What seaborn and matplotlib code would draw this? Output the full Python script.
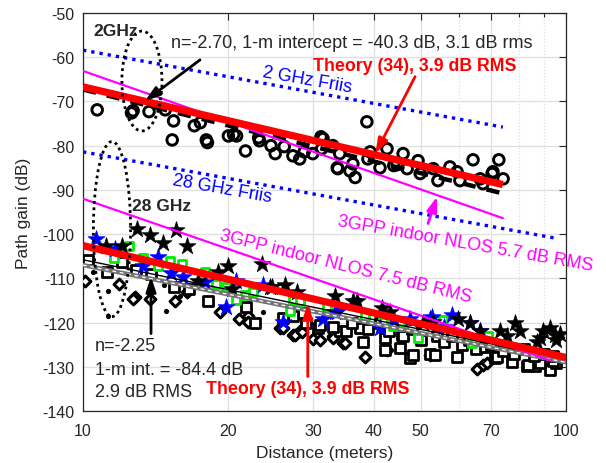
import numpy as np
import pandas as pd
import matplotlib
matplotlib.use("Agg")
import matplotlib.pyplot as plt
from matplotlib.patches import Ellipse
from matplotlib.ticker import FixedLocator, NullFormatter
import seaborn as sns

# ---------------- data ----------------
# 2 GHz measurements (open circles)
c2_x = [10.7, 12.6, 12.7, 13.7, 14.8, 15.4, 15.3, 17.0, 17.5, 18.0, 18.1, 20.0, 20.5, 20.8,
        21.7, 23.1, 23.2, 24.5, 25.0, 26.1, 27.2, 28.1, 28.7, 29.9, 31.1, 31.4, 31.2, 32.9,
        34.0, 33.7, 33.6, 35.7, 36.2, 36.6, 38.7, 39.3, 38.9, 41.2, 42.6, 44.0, 44.7, 46.0,
        46.9, 49.4, 49.9, 53.1, 54.3, 57.5, 59.5, 60.3, 64.2, 66.4, 67.3, 70.3, 70.6, 72.6, 74.1]
c2_y = [-71.9, -72.6, -72.1, -72.3, -71.9, -74.4, -78.7, -75.5, -74.8, -78.7, -79.3, -77.8, -77.5, -77.8,
        -81.2, -78.2, -78.9, -80.0, -81.8, -80.2, -82.3, -83.0, -81.4, -81.8, -78.0, -78.4, -80.7, -80.0,
        -81.8, -85.2, -85.0, -85.7, -84.1, -87.2, -74.6, -81.4, -83.0, -85.0, -80.7, -84.5, -84.3, -81.8,
        -85.2, -83.4, -86.3, -85.2, -87.9, -84.8, -85.9, -87.9, -83.2, -87.5, -88.6, -86.3, -85.9, -83.2, -87.5]

# 28 GHz measurements
ks_x = [12.94, 13.76, 14.64, 15.58, 16.42, 11.16, 12.04, 19.96, 23.48, 17.30, 19.03, 20.34, 24.39,
        26.20, 27.74, 33.25, 36.22, 36.92, 41.59, 43.21, 24.62, 59.76, 63.27, 78.43, 80.33, 73.02,
        75.49, 89.63, 94.89, 88.37, 87.10, 50.57, 53.04, 66.36, 92.67, 95.35, 97.0]
ks_y = [-98.8, -100.3, -102.1, -99.0, -102.8, -102.6, -102.8, -107.3, -106.7, -110.5, -108.5, -112.3, -111.9,
        -111.6, -113.0, -113.9, -115.2, -115.2, -116.8, -117.5, -111.9, -119.1, -120.2, -120.2, -121.8, -122.0,
        -123.1, -122.0, -122.9, -123.6, -124.3, -120.0, -119.8, -122.0, -121.3, -124.0, -122.5]

bs_x = [10.64, 11.65, 14.30, 13.31, 15.21, 16.11, 17.89, 19.77, 20.74, 25.95, 33.25, 31.40, 23.59,
        58.07, 52.79, 47.53, 66.36, 33.57, 63.27, 52.29, 41.2, 44.0, 56.0]
bs_y = [-101.0, -103.3, -105.1, -107.3, -108.9, -109.6, -110.9, -116.4, -110.5, -119.8, -117.5, -119.1, -111.6,
        -118.2, -118.8, -119.1, -121.8, -117.5, -120.2, -119.1, -121.3, -119.5, -121.0]

gs_x = [10.64, 12.45, 11.59, 13.31, 14.30, 15.14, 16.03, 17.89, 18.85, 19.77, 20.74, 21.65, 22.49,
        27.22, 28.14, 26.83, 32.00, 38.36, 41.79, 43.83, 45.97, 45.32, 49.38, 55.63, 63.88, 68.95]
gs_y = [-102.8, -102.8, -105.5, -105.3, -107.1, -106.0, -106.7, -108.5, -111.2, -111.9, -115.0, -113.7, -113.0,
        -115.0, -115.2, -117.3, -116.4, -118.6, -119.8, -120.7, -120.7, -120.2, -123.6, -119.5, -124.7, -123.1]

sq_x = [10.24, 11.21, 12.04, 12.87, 13.83, 16.58, 15.43, 18.15, 21.76, 22.71, 28.54, 30.66, 34.05,
        37.45, 41.20, 45.75, 42.19, 27.22, 47.53, 48.22, 71.29, 77.31, 83.05, 86.28, 92.67, 95.35,
        59.47, 52.29, 45.32, 38.00, 42.19, 53.55, 71.97, 83.45, 88.37, 94.00,
        26.0, 29.0, 31.0, 33.0, 35.0, 36.0, 39.0, 43.0, 46.0, 48.0, 50.0, 54.0, 56.0, 58.0,
        61.0, 63.0, 65.0, 68.0, 70.0, 74.0, 78.0, 82.0, 86.0, 90.0, 94.0]
sq_y = [-105.8, -108.5, -106.4, -108.2, -109.1, -112.3, -111.9, -115.2, -116.4, -120.0, -117.9, -121.3, -121.8,
        -121.3, -120.2, -122.9, -123.6, -118.6, -128.1, -127.4, -128.1, -129.0, -129.9, -129.9, -130.8, -129.2,
        -127.7, -127.0, -125.8, -124.3, -126.3, -127.4, -127.7, -129.7, -129.2, -128.6,
        -119.0, -120.0, -120.5, -121.0, -122.0, -120.0, -121.5, -122.0, -123.0, -121.5, -124.0, -123.0, -124.5, -123.0,
        -125.0, -124.0, -126.0, -125.5, -125.0, -126.5, -127.0, -126.0, -127.5, -127.0, -127.5]

dm_x = [10.10, 11.87, 12.81, 13.76, 15.50, 19.21, 21.04, 21.96, 12.69, 16.42, 21.96, 25.58, 27.22,
        28.14, 29.94, 30.95, 32.93, 34.54, 38.36, 42.60, 52.29, 65.42, 67.32, 68.61, 27.48, 28.41,
        34.87, 25.95, 32.93]
dm_y = [-110.5, -111.2, -114.3, -114.6, -115.2, -117.5, -119.1, -118.6, -114.6, -113.0, -119.8, -121.3, -122.9,
        -122.0, -123.8, -124.0, -123.1, -124.7, -127.7, -126.3, -127.4, -130.4, -129.7, -129.2, -122.9, -122.2,
        -124.7, -121.3, -123.6]

dot_x = [11.26, 11.26, 14.85, 14.71, 10.49, 15.88, 23.59]
dot_y = [-112.8, -118.6, -117.3, -111.6, -108.5, -113.9, -117.5]

# Model lines (end points)
friis2_x, friis2_y = [10, 74], [-58.4, -75.8]
friis28_x, friis28_y = [10, 96], [-81.4, -101.0]
gpp2_x, gpp2_y = [10, 74], [-63.1, -96.4]
gpp28_x, gpp28_y = [10, 93], [-92.0, -128.6]
th2_x, th2_y = [10, 74], [-66.7, -88.8]
th28_x, th28_y = [10, 100], [-102.6, -127.9]
fit2_x, fit2_y = [10, 74], [-67.3, -90.8]
fit28_x, fit28_y = [10, 100], [-107.0, -129.0]
fit28b_x, fit28b_y = [10, 100], [-105.8, -128.3]

x_ticks = [10, 20, 30, 40, 50, 70, 100]
x_minor = [60, 80, 90]
y_ticks = [-140, -130, -120, -110, -100, -90, -80, -70, -60, -50]

# ---------------- style ----------------
sns.set_style("white")
plt.rcParams['font.family'] = ['Liberation Sans', 'DejaVu Sans']

fig = plt.figure(figsize=(6.06, 4.64), dpi=100)
ax = fig.add_axes([83 / 606, 52 / 464, 483 / 606, 398 / 464])
ax.set_xscale('log')
ax.set_xlim(10, 100)
ax.set_ylim(-140, -50)

BLUE = '#0000ff'
MAG = '#ff00ff'
RED = '#ff0000'

# Friis lines
sns.lineplot(x=friis2_x, y=friis2_y, ax=ax, color=BLUE, lw=2.4, linestyle=(0, (1, 1.5)), zorder=2)
sns.lineplot(x=friis28_x, y=friis28_y, ax=ax, color=BLUE, lw=2.4, linestyle=(0, (1, 1.5)), zorder=2)

# scatter data
sns.scatterplot(x=c2_x, y=c2_y, ax=ax, marker='o', s=58, facecolors='none', edgecolors='black', linewidth=2.1, zorder=3)
sns.scatterplot(x=dm_x, y=dm_y, ax=ax, marker='D', s=30, facecolors='white', edgecolors='black', linewidth=2.2, zorder=3)
sns.scatterplot(x=dot_x, y=dot_y, ax=ax, marker='o', s=14, color='black', linewidth=0, zorder=3)
sns.scatterplot(x=sq_x, y=sq_y, ax=ax, marker='s', s=42, facecolors='white', edgecolors='black', linewidth=2, zorder=3)
sns.scatterplot(x=gs_x, y=gs_y, ax=ax, marker='s', s=36, facecolors='white', edgecolors='#00ee00', linewidth=2, zorder=3)
sns.scatterplot(x=bs_x, y=bs_y, ax=ax, marker='*', s=165, color=BLUE, edgecolor=BLUE, linewidth=0.5, zorder=3)
sns.scatterplot(x=ks_x, y=ks_y, ax=ax, marker='*', s=165, color='black', edgecolor='black', linewidth=0.5, zorder=3)

# fits
sns.lineplot(x=fit2_x, y=fit2_y, ax=ax, color='black', lw=3.2, linestyle=(0, (3, 2.5)), zorder=4)
sns.lineplot(x=fit28b_x, y=fit28b_y, ax=ax, color='black', lw=1.0, zorder=4)
sns.lineplot(x=fit28_x, y=fit28_y, ax=ax, color='0.45', lw=3.2, zorder=4)
sns.lineplot(x=fit28_x, y=fit28_y, ax=ax, color='white', lw=0.9, linestyle=(0, (3, 3)), zorder=4)

# 3GPP lines
sns.lineplot(x=gpp2_x, y=gpp2_y, ax=ax, color=MAG, lw=1.6, zorder=5)
sns.lineplot(x=gpp28_x, y=gpp28_y, ax=ax, color=MAG, lw=1.6, zorder=5)

# theory lines
sns.lineplot(x=th2_x, y=th2_y, ax=ax, color=RED, lw=5.2, zorder=6, solid_capstyle='butt')
sns.lineplot(x=th28_x, y=th28_y, ax=ax, color=RED, lw=5.2, zorder=6, solid_capstyle='butt')

# ellipses
ax.add_patch(Ellipse((0.122, 0.829), 0.083, 0.251, transform=ax.transAxes, fill=False,
                     ls=(0, (1, 1.3)), lw=2, ec='black', zorder=7))
ax.add_patch(Ellipse((0.060, 0.457), 0.077, 0.44, transform=ax.transAxes, fill=False,
                     ls=(0, (1, 1.3)), lw=2, ec='black', zorder=7))

# arrows
def arrow(tail, head, color):
    ax.annotate('', xy=head, xytext=tail,
                arrowprops=dict(arrowstyle='-|>,head_length=0.9,head_width=0.3', lw=2,
                                color=color, shrinkA=0, shrinkB=0), zorder=8)

arrow((17.47, -60.6), (13.44, -69.9), 'black')
arrow((48.7, -64.4), (40.3, -81.8), RED)
arrow((51.8, -97.6), (54.1, -91.5), MAG)
arrow((13.83, -122.5), (13.83, -109.6), 'black')
arrow((29.2, -132.2), (29.2, -115.7), RED)

# texts
FS = 13
ax.text(10.49, -53.9, '2GHz', fontsize=12.5, fontweight='bold', va='center', ha='left', zorder=9)
ax.text(15.2, -56.7, 'n=-2.70, 1-m intercept = -40.3 dB, 3.1 dB rms', fontsize=FS, va='center', ha='left', zorder=9)
ax.text(29.9, -61.9, 'Theory (34), 3.9 dB RMS', fontsize=12.8, fontweight='bold', color=RED, va='center', ha='left', zorder=9)
ax.text(29.1, -65.0, '2 GHz Friis', fontsize=FS, color=BLUE, va='center', ha='center', rotation=-10, zorder=9)
ax.text(19.4, -89.7, '28 GHz Friis', fontsize=FS, color=BLUE, va='center', ha='center', rotation=-10, zorder=9)
ax.text(12.63, -93.6, '28 GHz', fontsize=12.5, fontweight='bold', va='center', ha='left', zorder=9)
ax.text(34.9, -107.3, '3GPP indoor NLOS 7.5 dB RMS', fontsize=FS, color=MAG, va='center', ha='center', rotation=-14, zorder=9)
ax.text(62.0, -102.1, '3GPP indoor NLOS 5.7 dB RMS', fontsize=FS, color=MAG, va='center', ha='center', rotation=-10,
        zorder=9, clip_on=False)
ax.text(10.59, -125.2, 'n=-2.25', fontsize=FS, va='center', ha='left', zorder=9)
ax.text(10.59, -130.6, '1-m int. = -84.4 dB', fontsize=FS, va='center', ha='left', zorder=9)
ax.text(10.59, -135.6, '2.9 dB RMS', fontsize=FS, va='center', ha='left', zorder=9)
ax.text(17.97, -134.9, 'Theory (34), 3.9 dB RMS', fontsize=12.8, fontweight='bold', color=RED, va='center', ha='left', zorder=9)

# axes styling
ax.xaxis.set_major_locator(FixedLocator(x_ticks))
ax.set_xticklabels([str(t) for t in x_ticks])
ax.xaxis.set_minor_locator(FixedLocator(x_minor))
ax.xaxis.set_minor_formatter(NullFormatter())
ax.set_yticks(y_ticks)
ax.set_yticklabels([str(t) for t in y_ticks])
ax.grid(True, which='major', color='#dfdfdf', lw=0.9, zorder=0)
ax.grid(True, which='minor', axis='x', color='#dfdfdf', lw=0.9, linestyle=(0, (1, 1.5)), zorder=0)
ax.set_axisbelow(True)
ax.tick_params(which='both', direction='in', top=True, right=True, labelsize=11.5,
               labelcolor='#262626', color='#262626', length=5, width=0.8)
ax.tick_params(axis='x', which='both', pad=9)
ax.tick_params(axis='y', which='both', pad=6)
ax.tick_params(which='minor', length=3)
for sp in ax.spines.values():
    sp.set_color('#262626')
    sp.set_linewidth(0.9)
ax.set_xlabel('Distance (meters)', fontsize=12.5, color='#262626', labelpad=5)
ax.set_ylabel('Path gain (dB)', fontsize=12.5, color='#262626', labelpad=8)

fig.savefig('out.png', dpi=100)
